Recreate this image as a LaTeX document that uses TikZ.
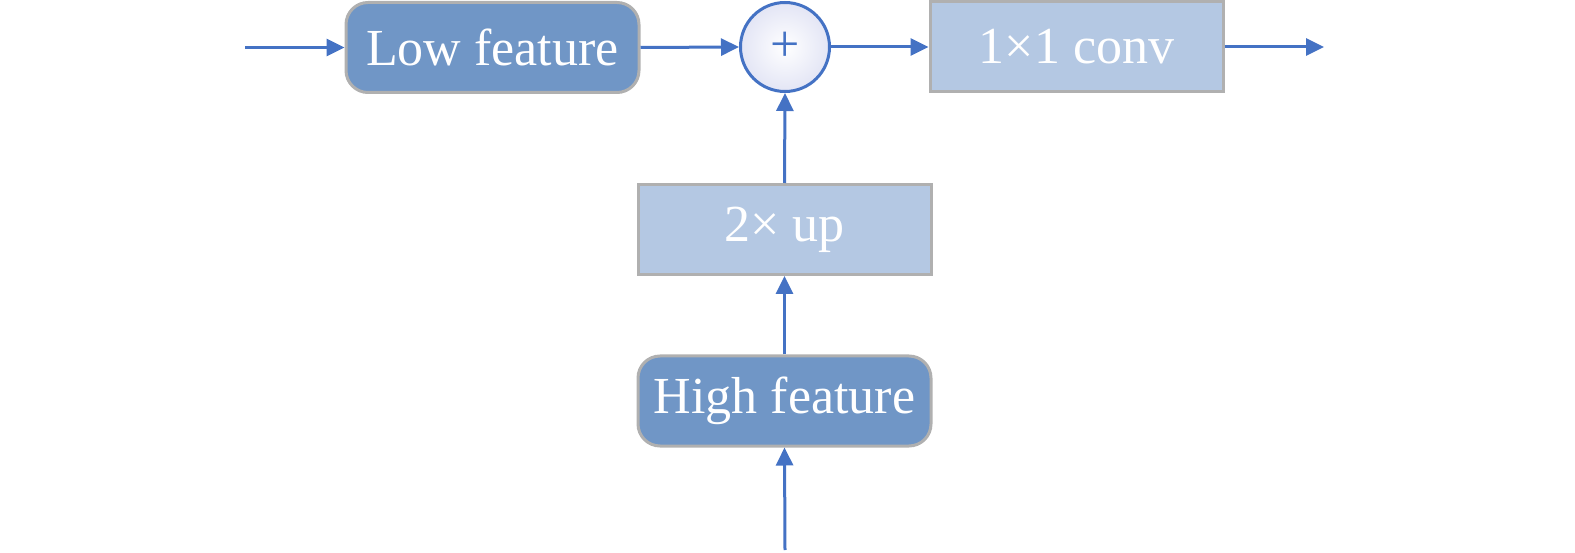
\documentclass[tikz,border=0pt]{standalone}
\usepackage{fontspec}
\setmainfont{Liberation Serif}
\usetikzlibrary{arrows.meta,shapes.geometric}
\definecolor{arrowblue}{HTML}{4472C4}
\definecolor{darkfill}{HTML}{7096C6}
\definecolor{lightfill}{HTML}{B4C8E3}
\definecolor{boxborder}{HTML}{B0B0B0}
\definecolor{circfill}{HTML}{E3E5F5}
\tikzset{
  base/.style={minimum width=293pt, minimum height=90pt, inner sep=0pt, draw=boxborder, line width=3pt, text=white, font=\fontsize{52}{62}\selectfont},
  featbox/.style={base, fill=darkfill, rounded corners=22pt},
  opbox/.style={base, fill=lightfill},
  sumnode/.style={circle, draw=arrowblue, line width=3pt, minimum size=89pt, inner sep=0pt, inner color=white, outer color=circfill, text=arrowblue, font=\fontsize{52}{62}\selectfont},
  conn/.style={draw=arrowblue, line width=3pt, -{Triangle[length=18pt,width=17pt]}}
}
\begin{document}
\begin{tikzpicture}[x=1pt,y=-1pt]
\useasboundingbox (0,0) rectangle (1575,553);
\node[featbox] (low) at (492.5,47.5) {Low feature};
\node[sumnode] (sum) at (785,47) {+};
\node[opbox] (conv) at (1076.5,47) {1×1 conv};
\node[opbox] (up) at (784.5,229.5) {2× up};
\node[featbox] (high) at (784.5,401) {High feature};
\coordinate (in) at (245,47.5);
\coordinate (out) at (1324,47);
\coordinate (hin) at (785,550);
\draw[conn] (in) -- (low.west);
\draw[conn] (low.east) -- (sum.west);
\draw[conn] (sum.east) -- (conv.west);
\draw[conn] (conv.east) -- (out);
\draw[conn] (up.north) -- (sum.south);
\draw[conn] (high.north) -- (up.south);
\draw[conn] (hin) -- (high.south);
\end{tikzpicture}
\end{document}
